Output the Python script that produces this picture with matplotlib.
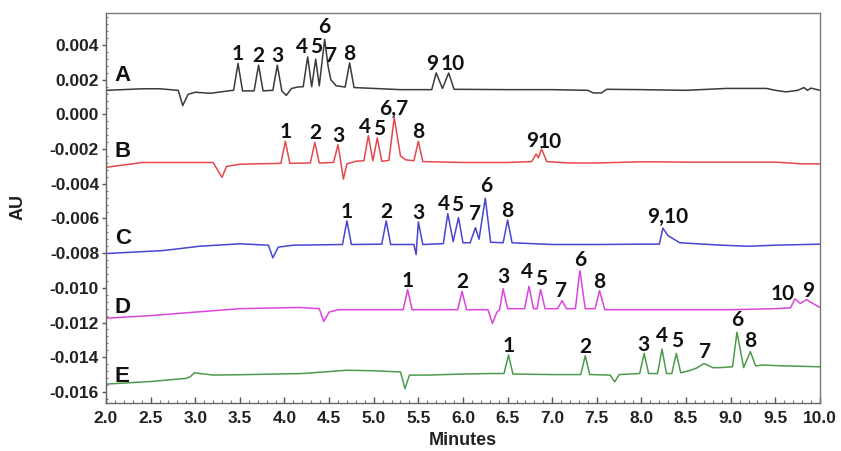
"""
Five stacked HPLC chromatograms (A-E) with numbered peaks.
"""
import numpy as np
import matplotlib; matplotlib.use("Agg")
import matplotlib.pyplot as plt
import matplotlib.ticker as mticker

# ---- data (time in min, signal in AU) ----
# baseline / foot points of each trace
A_bl_t = [2.00, 2.41, 2.60, 2.81, 2.86, 2.92, 3.00, 3.17, 3.42, 3.43, 3.53, 3.66, 3.76, 3.87, 3.97,
          4.02, 4.08, 4.15, 4.21, 4.305, 4.39, 4.52, 4.58, 4.68, 4.78, 5.00, 5.30, 5.65, 5.77, 5.90,
          6.50, 7.00, 7.40, 7.46, 7.55, 7.61, 8.00, 8.50, 8.95, 9.40, 9.50, 9.62, 9.75, 9.82, 9.86,
          9.90, 10.0]
A_bl_v = [0.00139, 0.00148, 0.00148, 0.00139, 0.00051, 0.00116, 0.00128, 0.00122, 0.00139, 0.00139,
          0.00136, 0.00136, 0.00136, 0.00139, 0.00136, 0.00110, 0.00150, 0.00158, 0.00160, 0.00160,
          0.00165, 0.00200, 0.00165, 0.00158, 0.00155, 0.00150, 0.00143, 0.00143, 0.00150, 0.00145,
          0.00143, 0.00143, 0.00139, 0.00124, 0.00124, 0.00145, 0.00143, 0.00139, 0.00150, 0.00150,
          0.00139, 0.00130, 0.00139, 0.00155, 0.00139, 0.00152, 0.00139]
A_pk_t = [3.48, 3.71, 3.92, 4.26, 4.35, 4.45, 4.49, 4.73, 5.70, 5.84]
A_pk_v = [0.00294, 0.00284, 0.00284, 0.00332, 0.00319, 0.00433, 0.00274, 0.00297, 0.00239, 0.00239]
A_pk_lbl = ["1", "2", "3", "4", "5", "6", "7", "8", "9", "10"]

B_bl_t = [2.00, 2.41, 3.00, 3.20, 3.30, 3.35, 3.50, 3.96, 4.06, 4.29, 4.39, 4.55, 4.63, 4.66, 4.70,
          4.80, 4.89, 4.99, 5.09, 5.17, 5.30, 5.36, 5.45, 5.55, 6.00, 6.50, 6.77, 6.845, 6.94, 7.20,
          7.50, 8.00, 8.50, 9.00, 9.50, 9.80, 10.0]
B_bl_v = [-0.00305, -0.00277, -0.00277, -0.00277, -0.00363, -0.00300, -0.00287, -0.00282, -0.00282,
          -0.00280, -0.00280, -0.00277, -0.00270, -0.00373, -0.00285, -0.00270, -0.00267, -0.00267,
          -0.00270, -0.00265, -0.00240, -0.00262, -0.00267, -0.00272, -0.00277, -0.00277, -0.00272,
          -0.00250, -0.00272, -0.00280, -0.00280, -0.00273, -0.00275, -0.00275, -0.00275, -0.00285,
          -0.00285]
B_pk_t = [4.01, 4.34, 4.60, 4.94, 5.04, 5.23, 5.50, 6.82, 6.88]
B_pk_v = [-0.00155, -0.00161, -0.00174, -0.00122, -0.00135, -0.00018, -0.00155, -0.00228, -0.00199]
B_pk_lbl = ["1", "2", "3", "4", "5", "6,7", "8", "9", "10"]

C_bl_t = [2.00, 2.64, 3.05, 3.50, 3.82, 3.87, 3.93, 4.10, 4.65, 4.75, 5.09, 5.19, 5.45, 5.475, 5.55,
          5.78, 5.89, 6.00, 6.08, 6.18, 6.31, 6.45, 6.55, 7.00, 7.50, 8.00, 8.20, 8.30, 8.43, 8.90,
          9.20, 9.50, 10.0]
C_bl_v = [-0.00802, -0.00785, -0.00760, -0.00746, -0.00754, -0.00827, -0.00765, -0.00754, -0.00750,
          -0.00750, -0.00748, -0.00750, -0.00750, -0.00808, -0.00750, -0.00745, -0.00733, -0.00740,
          -0.00740, -0.00720, -0.00737, -0.00740, -0.00740, -0.00750, -0.00750, -0.00748, -0.00748,
          -0.00700, -0.00740, -0.00754, -0.00760, -0.00754, -0.00748]
C_pk_t = [4.70, 5.14, 5.50, 5.83, 5.95, 6.14, 6.25, 6.50, 8.24]
C_pk_v = [-0.00614, -0.00614, -0.00620, -0.00572, -0.00595, -0.00653, -0.00483, -0.00609, -0.00656]
C_pk_lbl = ["1", "2", "3", "4", "5", "7", "6", "8", "9,10"]

D_bl_t = [2.00, 2.50, 3.00, 3.50, 4.17, 4.39, 4.44, 4.50, 4.60, 5.00, 5.33, 5.43, 5.94, 6.04, 6.28,
          6.33, 6.38, 6.41, 6.50, 6.69, 6.79, 6.83, 6.92, 7.06, 7.16, 7.26, 7.37, 7.48, 7.59, 8.00,
          8.50, 9.00, 9.50, 9.67, 9.78, 9.92, 10.0]
D_bl_v = [-0.01175, -0.01160, -0.01140, -0.01120, -0.01113, -0.01120, -0.01194, -0.01140, -0.01126,
          -0.01126, -0.01126, -0.01126, -0.01126, -0.01126, -0.01126, -0.01205, -0.01140, -0.01126,
          -0.01120, -0.01120, -0.01120, -0.01120, -0.01120, -0.01120, -0.01120, -0.01120, -0.01120,
          -0.01120, -0.01126, -0.01126, -0.01126, -0.01126, -0.01120, -0.01115, -0.01090, -0.01090,
          -0.01113]
D_pk_t = [5.38, 5.99, 6.45, 6.74, 6.87, 7.11, 7.31, 7.53, 9.72, 9.85]
D_pk_v = [-0.01010, -0.01020, -0.01005, -0.00991, -0.01010, -0.01074, -0.00900, -0.01016, -0.01063,
          -0.01068]
D_pk_lbl = ["1", "2", "3", "4", "5", "7", "6", "8", "10", "9"]

E_bl_t = [2.00, 2.50, 2.90, 2.95, 2.99, 3.20, 3.60, 4.20, 4.70, 5.00, 5.30, 5.35, 5.40, 5.60, 6.00,
          6.30, 6.46, 6.56, 7.00, 7.32, 7.42, 7.65, 7.70, 7.75, 7.98, 8.08, 8.18, 8.28, 8.34, 8.44,
          8.55, 8.62, 8.80, 8.88, 9.02, 9.145, 9.28, 9.36, 9.60, 10.0]
E_bl_v = [-0.01555, -0.01540, -0.01522, -0.01510, -0.01490, -0.01503, -0.01500, -0.01494, -0.01475,
          -0.01478, -0.01485, -0.01581, -0.01503, -0.01503, -0.01497, -0.01494, -0.01494, -0.01497,
          -0.01500, -0.01500, -0.01500, -0.01503, -0.01542, -0.01500, -0.01494, -0.01494, -0.01494,
          -0.01494, -0.01494, -0.01490, -0.01475, -0.01462, -0.01460, -0.01460, -0.01455, -0.01460,
          -0.01450, -0.01445, -0.01450, -0.01455]
E_pk_t = [6.51, 7.37, 8.03, 8.23, 8.39, 8.70, 9.07, 9.22]
E_pk_v = [-0.01387, -0.01391, -0.01378, -0.01353, -0.01378, -0.01436, -0.01256, -0.01368]
E_pk_lbl = ["1", "2", "3", "4", "5", "7", "6", "8"]

TRACES = {
    "A": (A_bl_t, A_bl_v, A_pk_t, A_pk_v, A_pk_lbl),
    "B": (B_bl_t, B_bl_v, B_pk_t, B_pk_v, B_pk_lbl),
    "C": (C_bl_t, C_bl_v, C_pk_t, C_pk_v, C_pk_lbl),
    "D": (D_bl_t, D_bl_v, D_pk_t, D_pk_v, D_pk_lbl),
    "E": (E_bl_t, E_bl_v, E_pk_t, E_pk_v, E_pk_lbl),
}
LETTER_Y = {"A": 0.00222, "B": -0.00213, "C": -0.00716, "D": -0.01113, "E": -0.0151}

# ---- styling ----
COLORS = {"A": "#3a3a3a", "B": "#e5484d", "C": "#4646d2", "D": "#dc44dc", "E": "#4d9a4d"}
# label nudges in pixels (dx, dy above apex); default (0, 3)
NUDGE = {
    ("A", "4"): (-6, 4), ("A", "5"): (0, 6), ("A", "6"): (0, 6), ("A", "7"): (3, 5),
    ("A", "9"): (-4, 3), ("A", "10"): (4, 3),
    ("B", "4"): (-3, 3), ("B", "5"): (2, 3), ("B", "9"): (-4, 7), ("B", "10"): (8, 1),
    ("C", "4"): (-4, 4), ("C", "5"): (-1, 7), ("C", "7"): (0, 8), ("C", "6"): (1, 6),
    ("C", "9,10"): (5, 5),
    ("D", "3"): (0, 6), ("D", "4"): (-2, 8), ("D", "5"): (1, 5), ("D", "7"): (-1, 4),
    ("D", "6"): (0, 5), ("D", "10"): (-12, -1), ("D", "9"): (2, 3),
    ("E", "3"): (-1, 2), ("E", "4"): (0, 7), ("E", "5"): (1, 6), ("E", "7"): (1, 5),
    ("E", "6"): (0, 6), ("E", "8"): (0, 5),
}
NUM_FONT = {"family": "Lato", "weight": "bold", "size": 15}
BOLD = {"family": "Liberation Sans", "weight": "bold"}

fig = plt.figure(figsize=(8.41, 4.51), dpi=100, facecolor="white")
ax = fig.add_axes([0.126, 0.1064, 0.849, 0.8648])

for key, (bt, bv, pt, pv, lbls) in TRACES.items():
    t = np.array(bt + pt)
    v = np.array(bv + pv)
    order = np.argsort(t, kind="stable")
    ax.plot(t[order], v[order], color=COLORS[key], lw=1.1, solid_joinstyle="round")
    for x, y, s in zip(pt, pv, lbls):
        dx, dy = NUDGE.get((key, s), (0, 3))
        ax.annotate(s, (x, y), xytext=(dx, dy), textcoords="offset pixels",
                    ha="center", va="baseline", color="#111111", **NUM_FONT)
    ax.text(2.1, LETTER_Y[key], key, ha="left", va="center", fontsize=16,
            color="#111111", **BOLD)

ax.set_xlim(2.0, 10.0)
ax.set_ylim(-0.01664, 0.00585)
ax.xaxis.set_major_locator(mticker.MultipleLocator(0.5))
ax.xaxis.set_minor_locator(mticker.MultipleLocator(0.1))
ax.yaxis.set_major_locator(mticker.FixedLocator(np.arange(-0.016, 0.0041, 0.002)))
ax.yaxis.set_minor_locator(mticker.MultipleLocator(0.0004))
ax.xaxis.set_major_formatter(mticker.FormatStrFormatter("%.1f"))
ax.yaxis.set_major_formatter(mticker.FormatStrFormatter("%.3f"))

ax.tick_params(axis="x", which="major", direction="in", length=4, width=1, color="#555555",
               pad=6, labelsize=12.5)
ax.tick_params(axis="x", which="minor", direction="in", length=2, width=0.8, color="#777777")
ax.tick_params(axis="y", which="major", direction="out", length=3, width=1, color="#555555",
               pad=2, labelsize=12.5)
ax.tick_params(axis="y", which="minor", direction="in", length=1.5, width=0.8, color="#777777")
for lab in ax.get_xticklabels() + ax.get_yticklabels():
    lab.set_fontfamily("Liberation Sans")
    lab.set_fontweight("bold")
    lab.set_color("#222222")

for side in ["top", "right"]:
    ax.spines[side].set_color("#777777")
    ax.spines[side].set_linewidth(1.0)
for side in ["left", "bottom"]:
    ax.spines[side].set_color("#666666")
    ax.spines[side].set_linewidth(1.0)

ax.set_xlabel("Minutes", fontsize=13, labelpad=4, color="#222222", **BOLD)
fig.text(18 / 841, 1 - 207 / 451, "AU", rotation=90, ha="center", va="center",
         fontsize=13, color="#222222", **BOLD)

fig.savefig("out.png", dpi=100, facecolor="white")
